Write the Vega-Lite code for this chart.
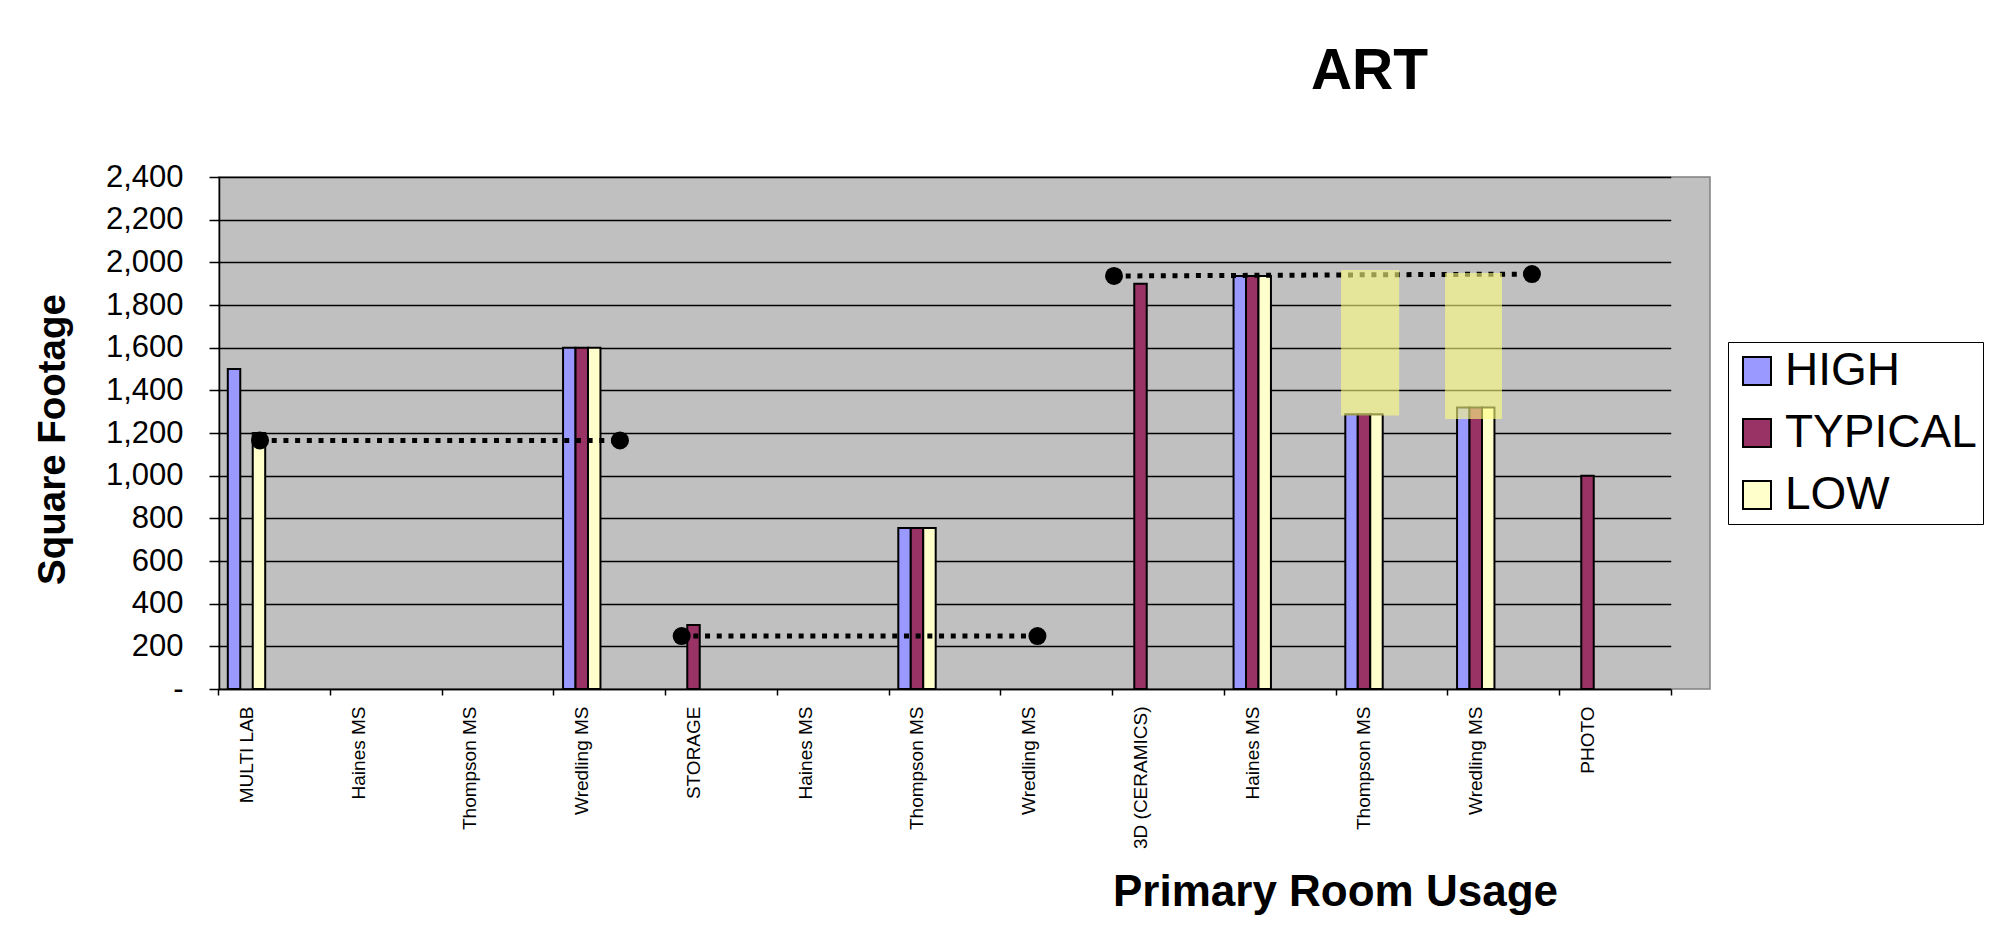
{
  "$schema": "https://vega.github.io/schema/vega-lite/v6.json",
  "width": 1491,
  "height": 512,
  "autosize": {"type": "none"},
  "padding": {"left": 219, "top": 177, "right": 291, "bottom": 255},
  "background": "white",
  "config": {
    "font": "Liberation Sans",
    "view": {"fill": "#C0C0C0", "stroke": "#808080", "strokeWidth": 1.5}
  },
  "title": {
    "text": "ART",
    "fontSize": 57,
    "fontWeight": "bold",
    "font": "Liberation Sans",
    "color": "black",
    "anchor": "middle",
    "frame": "group",
    "dx": 405,
    "offset": 15,
    "baseline": "alphabetic"
  },
  "datasets": {
    "bars": [
      {"slot": "MULTI LAB|0", "level": "HIGH", "sqft": 1500},
      {"slot": "MULTI LAB|0", "level": "LOW", "sqft": 1200},
      {"slot": "Wredling MS|3", "level": "HIGH", "sqft": 1600},
      {"slot": "Wredling MS|3", "level": "TYPICAL", "sqft": 1600},
      {"slot": "Wredling MS|3", "level": "LOW", "sqft": 1600},
      {"slot": "STORAGE|4", "level": "TYPICAL", "sqft": 300},
      {"slot": "Thompson MS|6", "level": "HIGH", "sqft": 755},
      {"slot": "Thompson MS|6", "level": "TYPICAL", "sqft": 755},
      {"slot": "Thompson MS|6", "level": "LOW", "sqft": 755},
      {"slot": "3D (CERAMICS)|8", "level": "TYPICAL", "sqft": 1900},
      {"slot": "Haines MS|9", "level": "HIGH", "sqft": 1936},
      {"slot": "Haines MS|9", "level": "TYPICAL", "sqft": 1936},
      {"slot": "Haines MS|9", "level": "LOW", "sqft": 1936},
      {"slot": "Thompson MS|10", "level": "HIGH", "sqft": 1288},
      {"slot": "Thompson MS|10", "level": "TYPICAL", "sqft": 1288},
      {"slot": "Thompson MS|10", "level": "LOW", "sqft": 1288},
      {"slot": "Wredling MS|11", "level": "HIGH", "sqft": 1320},
      {"slot": "Wredling MS|11", "level": "TYPICAL", "sqft": 1320},
      {"slot": "Wredling MS|11", "level": "LOW", "sqft": 1320},
      {"slot": "PHOTO|12", "level": "TYPICAL", "sqft": 1000}
    ],
    "lines": [
      {"seg": "A", "pos": 0.376, "sqft": 1165},
      {"seg": "A", "pos": 3.597, "sqft": 1165},
      {"seg": "B", "pos": 4.149, "sqft": 248},
      {"seg": "B", "pos": 7.333, "sqft": 248},
      {"seg": "C", "pos": 8.018, "sqft": 1936},
      {"seg": "C", "pos": 11.758, "sqft": 1945}
    ],
    "zones": [
      {"x0": 10.05, "x1": 10.57, "top": 1964, "bottom": 1282},
      {"x0": 10.98, "x1": 11.49, "top": 1950, "bottom": 1266}
    ]
  },
  "layer": [
    {
      "data": {"name": "bars"},
      "mark": {"type": "bar", "stroke": "black", "strokeWidth": 2},
      "encoding": {
        "x": {
          "field": "slot",
          "type": "nominal",
          "sort": null,
          "scale": {
            "domain": ["MULTI LAB|0", "Haines MS|1", "Thompson MS|2", "Wredling MS|3", "STORAGE|4", "Haines MS|5", "Thompson MS|6", "Wredling MS|7", "3D (CERAMICS)|8", "Haines MS|9", "Thompson MS|10", "Wredling MS|11", "PHOTO|12"],
            "range": [-1, 1451.75],
            "paddingInner": 0,
            "paddingOuter": 0
          },
          "axis": {
            "title": "Primary Room Usage",
            "titleFont": "Liberation Sans",
            "titleFontSize": 44,
            "titleFontWeight": "bold",
            "titleColor": "black",
            "titleX": 1116,
            "titleY": 216,
            "titleAlign": "center",
            "titleBaseline": "alphabetic",
            "labelExpr": "split(datum.label, '|')[0]",
            "labelAngle": -90,
            "labelAlign": "right",
            "labelBaseline": "middle",
            "labelFont": "Liberation Sans",
            "labelFontSize": 19,
            "labelColor": "black",
            "labelPadding": 11,
            "labelOffset": -27.4,
            "labelOverlap": false,
            "tickBand": "extent",
            "tickSize": 6,
            "tickColor": "black",
            "tickWidth": 1.5,
            "domainColor": "black",
            "domainWidth": 1.5,
            "grid": false
          }
        },
        "xOffset": {
          "field": "level",
          "type": "nominal",
          "scale": {"domain": ["HIGH", "TYPICAL", "LOW"], "range": [9.8, 47.2], "paddingInner": 0, "paddingOuter": 0}
        },
        "y": {
          "field": "sqft",
          "type": "quantitative",
          "scale": {"domain": [0, 2400], "nice": false},
          "axis": {
            "title": "Square Footage",
            "titleFont": "Liberation Sans",
            "titleFontSize": 38.5,
            "titleFontWeight": "bold",
            "titleColor": "black",
            "titleX": -155,
            "titleY": 262,
            "titleAngle": -90,
            "titleAlign": "center",
            "titleBaseline": "alphabetic",
            "values": [0, 200, 400, 600, 800, 1000, 1200, 1400, 1600, 1800, 2000, 2200, 2400],
            "labelExpr": "datum.value == 0 ? '-' : format(datum.value, ',')",
            "labelFont": "Liberation Sans",
            "labelFontSize": 31,
            "labelColor": "black",
            "labelPadding": 26,
            "tickSize": 10,
            "tickColor": "black",
            "tickWidth": 1.5,
            "domainColor": "black",
            "domainWidth": 1.5,
            "grid": true,
            "gridColor": "black",
            "gridWidth": 1.3
          }
        },
        "color": {
          "field": "level",
          "type": "nominal",
          "scale": {"domain": ["HIGH", "TYPICAL", "LOW"], "range": ["#9999FF", "#993366", "#FFFFCC"]},
          "legend": {
            "title": null,
            "orient": "none",
            "legendX": 1509,
            "legendY": 165,
            "direction": "vertical",
            "symbolType": "square",
            "symbolSize": 784,
            "symbolStrokeColor": "black",
            "symbolStrokeWidth": 2,
            "symbolOpacity": 1,
            "labelFont": "Liberation Sans",
            "labelFontSize": 46,
            "labelLimit": 500,
            "labelColor": "black",
            "labelOffset": 5,
            "rowPadding": 16,
            "padding": 6,
            "strokeColor": "black",
            "fillColor": "white"
          }
        }
      }
    },
    {
      "layer": [
        {
          "data": {"name": "lines"},
          "mark": {"type": "line", "color": "black", "strokeWidth": 5, "strokeDash": [5, 6.7], "strokeCap": "butt"},
          "encoding": {
            "x": {"field": "pos", "type": "quantitative", "scale": {"domain": [0, 13], "range": [-1, 1451.75], "nice": false, "zero": false}, "axis": null},
            "y": {"field": "sqft", "type": "quantitative"},
            "detail": {"field": "seg", "type": "nominal"}
          }
        },
        {
          "data": {"name": "lines"},
          "mark": {"type": "point", "filled": true, "shape": "circle", "size": 324, "color": "black", "opacity": 1},
          "encoding": {
            "x": {"field": "pos", "type": "quantitative"},
            "y": {"field": "sqft", "type": "quantitative"}
          }
        },
        {
          "data": {"name": "zones"},
          "mark": {"type": "rect", "fill": "#FFFF80", "opacity": 0.6},
          "encoding": {
            "x": {"field": "x0", "type": "quantitative"},
            "x2": {"field": "x1"},
            "y": {"field": "top", "type": "quantitative"},
            "y2": {"field": "bottom"}
          }
        }
      ]
    }
  ],
  "resolve": {"scale": {"x": "independent"}, "axis": {"x": "independent"}}
}
